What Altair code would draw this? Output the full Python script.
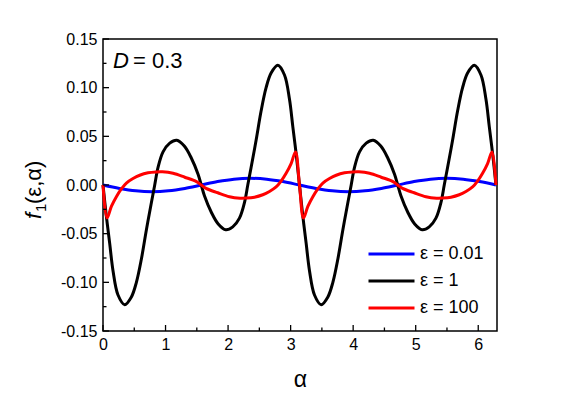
import altair as alt
import pandas as pd

# ---------------- data ----------------
alpha_blue = [0, 0.262, 0.524, 0.785, 1.047, 1.309, 1.571, 1.833, 2.094, 2.356, 2.618, 2.880, 3.142,
              3.403, 3.665, 3.927, 4.189, 4.451, 4.712, 4.974, 5.236, 5.498, 5.760, 6.021, 6.283]
f_blue = [0, -0.0035, -0.0060, -0.0069, -0.0060, -0.0035, 0, 0.0035, 0.0060, 0.0069, 0.0060, 0.0035, 0,
          -0.0035, -0.0060, -0.0069, -0.0060, -0.0035, 0, 0.0035, 0.0060, 0.0069, 0.0060, 0.0035, 0]

alpha_black = [0, 0.05, 0.107, 0.16, 0.24, 0.347, 0.454, 0.534, 0.614, 0.694, 0.774, 0.827, 0.88, 0.96,
               1.067, 1.18, 1.30, 1.41, 1.52, 1.571, 1.622, 1.732, 1.842, 1.962, 2.075, 2.182, 2.262,
               2.315, 2.368, 2.448, 2.528, 2.608, 2.688, 2.795, 2.902, 2.982, 3.035, 3.092, 3.1416,
               3.1916, 3.2486, 3.3016, 3.3816, 3.4886, 3.5956, 3.6756, 3.7556, 3.8356, 3.9156, 3.9686,
               4.0216, 4.1016, 4.2086, 4.3216, 4.4416, 4.5516, 4.6616, 4.7124, 4.7636, 4.8736, 4.9836,
               5.1036, 5.2166, 5.3236, 5.4036, 5.4566, 5.5096, 5.5896, 5.6696, 5.7496, 5.8296, 5.9366,
               6.0436, 6.1236, 6.1766, 6.2336, 6.2832]
f_black = [0, -0.030, -0.060, -0.088, -0.113, -0.123, -0.115, -0.100, -0.076, -0.046, -0.018, 0.000,
           0.018, 0.034, 0.043, 0.046, 0.040, 0.028, 0.011, 0, -0.011, -0.028, -0.040, -0.046, -0.043,
           -0.034, -0.018, 0.000, 0.018, 0.046, 0.076, 0.100, 0.115, 0.123, 0.113, 0.088, 0.060, 0.030, 0,
           -0.030, -0.060, -0.088, -0.113, -0.123, -0.115, -0.100, -0.076, -0.046, -0.018, 0.000,
           0.018, 0.034, 0.043, 0.046, 0.040, 0.028, 0.011, 0, -0.011, -0.028, -0.040, -0.046, -0.043,
           -0.034, -0.018, 0.000, 0.018, 0.046, 0.076, 0.100, 0.115, 0.123, 0.113, 0.088, 0.060, 0.030, 0]

alpha_red = [0, 0.064, 0.134, 0.214, 0.294, 0.374, 0.48, 0.587, 0.72, 0.85, 0.95, 1.12, 1.307, 1.494,
             1.571, 1.648, 1.835, 2.022, 2.192, 2.292, 2.422, 2.555, 2.662, 2.768, 2.848, 2.928, 3.008,
             3.078, 3.1416,
             3.2056, 3.2756, 3.3556, 3.4356, 3.5156, 3.6216, 3.7286, 3.8616, 3.9916, 4.0916, 4.2616,
             4.4486, 4.6356, 4.7124, 4.7896, 4.9766, 5.1636, 5.3336, 5.4336, 5.5636, 5.6966, 5.8036,
             5.9096, 5.9896, 6.0696, 6.1496, 6.2196, 6.2832]
f_red = [0, -0.034, -0.022, -0.012, -0.004, 0.002, 0.0066, 0.010, 0.0125, 0.0134, 0.0135, 0.012, 0.008,
         0.0035, 0, -0.0035, -0.008, -0.012, -0.0135, -0.0134, -0.0125, -0.010, -0.0066, -0.002, 0.004,
         0.012, 0.022, 0.034, 0,
         -0.034, -0.022, -0.012, -0.004, 0.002, 0.0066, 0.010, 0.0125, 0.0134, 0.0135, 0.012, 0.008,
         0.0035, 0, -0.0035, -0.008, -0.012, -0.0135, -0.0134, -0.0125, -0.010, -0.0066, -0.002, 0.004,
         0.012, 0.022, 0.034, 0]

series_labels = ["ε = 0.01", "ε = 1", "ε = 100"]
series_colors = ["#0000ff", "#000000", "#ff0000"]

x_major = [0, 1, 2, 3, 4, 5, 6]
x_minor = [0.5, 1.5, 2.5, 3.5, 4.5, 5.5]
y_major = [-0.15, -0.10, -0.05, 0.0, 0.05, 0.10, 0.15]
y_minor = [-0.125, -0.075, -0.025, 0.025, 0.075, 0.125]

# ---------------- build table ----------------
rows = []
for lab, xs, ys in zip(series_labels, [alpha_blue, alpha_black, alpha_red], [f_blue, f_black, f_red]):
    for i, (a, v) in enumerate(zip(xs, ys)):
        rows.append({"alpha": a, "f": v, "series": lab, "order": i})
df = pd.DataFrame(rows)

FONT = "Liberation Sans"
W, H = 394, 292

xscale = alt.Scale(domain=[0, 6.3], nice=False, zero=False)
yscale = alt.Scale(domain=[-0.15, 0.15], nice=False, zero=False)

xaxis = alt.Axis(values=x_major, format="d", ticks=False, domain=False, grid=False,
                 labelFont=FONT, labelFontSize=16, labelColor="black", labelPadding=5,
                 labelFlush=False, labelOverlap=False,
                 title="α", titleFont=FONT, titleFontSize=23, titleFontWeight="normal",
                 titleColor="black", titleY=55, titleBaseline="alphabetic")
yaxis = alt.Axis(values=y_major, labelExpr="replace(format(datum.value, '.2f'), '\u2212', '-')",
                 ticks=False, domain=False, grid=False, labelFont=FONT, labelFontSize=16,
                 labelColor="black", labelPadding=6, labelOverlap=False, title=None)

lines = alt.Chart(df).mark_line(strokeWidth=3, interpolate="catmull-rom").encode(
    x=alt.X("alpha:Q", scale=xscale, axis=xaxis),
    y=alt.Y("f:Q", scale=yscale, axis=yaxis),
    color=alt.Color("series:N",
                    scale=alt.Scale(domain=series_labels, range=series_colors),
                    sort=series_labels,
                    legend=alt.Legend(orient="none", legendX=264, legendY=205, title=None,
                                      symbolType="stroke", symbolSize=2116, symbolStrokeWidth=3,
                                      clipHeight=20, rowPadding=7, labelFontSize=18, labelFont=FONT,
                                      labelColor="black", labelOffset=4, padding=0, labelLimit=300)),
    order="order:Q",
)

xt_major = alt.Chart(pd.DataFrame({"alpha": x_major})).mark_rule(color="black", strokeWidth=1.3).encode(
    x=alt.X("alpha:Q", scale=xscale, axis=xaxis), y=alt.value(H), y2=alt.value(H - 6))
xt_minor = alt.Chart(pd.DataFrame({"alpha": x_minor})).mark_rule(color="black", strokeWidth=1.3).encode(
    x=alt.X("alpha:Q", scale=xscale, axis=xaxis), y=alt.value(H), y2=alt.value(H - 3.5))
yt_major = alt.Chart(pd.DataFrame({"f": y_major})).mark_rule(color="black", strokeWidth=1.3).encode(
    y=alt.Y("f:Q", scale=yscale, axis=yaxis), x=alt.value(0), x2=alt.value(6))
yt_minor = alt.Chart(pd.DataFrame({"f": y_minor})).mark_rule(color="black", strokeWidth=1.3).encode(
    y=alt.Y("f:Q", scale=yscale, axis=yaxis), x=alt.value(0), x2=alt.value(3.5))

def txt(s, x, y, size, style="normal", angle=0):
    return alt.Chart(pd.DataFrame({"t": [s]})).mark_text(
        align="left", baseline="alphabetic", font=FONT, fontSize=size, fontStyle=style,
        color="black", angle=angle).encode(x=alt.value(x), y=alt.value(y), text="t:N")

d_label = txt("D", 10, 29, 22, "italic")
d_value = txt("= 0.3", 30, 29, 22)

yt_f = txt("f", -62, 180, 22, "italic", 270)
yt_sub = txt("1", -57, 173, 15, "normal", 270)
yt_rest = txt("(ε,α)", -62, 165, 22, "normal", 270)

chart = alt.layer(
    lines, xt_major, xt_minor, yt_major, yt_minor, d_label, d_value, yt_f, yt_sub, yt_rest
).properties(
    width=W, height=H,
    autosize=alt.AutoSizeParams(type="none"),
    padding={"left": 95, "top": 31, "right": 53, "bottom": 60},
).configure_view(stroke="black", strokeWidth=1.5)

chart.save("out.html", embed_options={"renderer": "svg", "actions": False})
